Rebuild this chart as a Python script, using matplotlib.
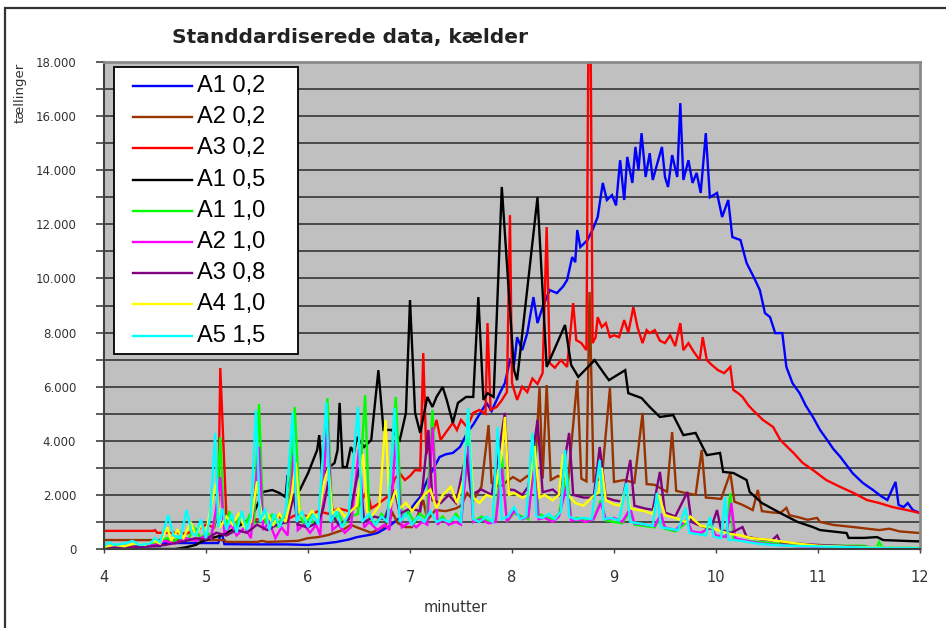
import matplotlib
matplotlib.use("Agg")
import matplotlib.pyplot as plt
from matplotlib.patches import Rectangle
from matplotlib.lines import Line2D
from matplotlib.ticker import MultipleLocator, FuncFormatter

plt.rcParams.update({"font.family": "DejaVu Sans"})

# ---- data (minutter, tællinger) ----
t_a1_02 = [4.0, 4.55, 4.56, 5.12, 5.14, 5.16, 5.18, 5.5, 5.8, 6.0, 6.15, 6.28, 6.4, 6.48, 6.6, 6.68, 6.8, 6.87,
           6.95, 7.0, 7.05, 7.1, 7.17, 7.22, 7.29, 7.35, 7.42, 7.49, 7.56, 7.62, 7.69, 7.75, 7.8, 7.88, 7.93, 7.98,
           8.02, 8.05, 8.1, 8.15, 8.21, 8.25, 8.3, 8.37, 8.44, 8.5, 8.54, 8.59, 8.62, 8.64, 8.67, 8.74, 8.79, 8.84,
           8.89, 8.93, 8.98, 9.02, 9.06, 9.1, 9.13, 9.18, 9.21, 9.24, 9.27, 9.31, 9.35, 9.38, 9.42, 9.47, 9.5, 9.53,
           9.57, 9.62, 9.65, 9.68, 9.73, 9.77, 9.81, 9.85, 9.9, 9.94, 10.01, 10.06, 10.12, 10.16, 10.24, 10.3, 10.37,
           10.43, 10.48, 10.53, 10.58, 10.65, 10.69, 10.75, 10.82, 10.88, 10.95, 11.02, 11.09, 11.15, 11.22, 11.28,
           11.34, 11.44, 11.54, 11.62, 11.68, 11.76, 11.79, 11.84, 11.88, 11.93, 12.0]
v_a1_02 = [110, 110, 220, 220, 520, 520, 180, 170, 170, 150, 200, 260, 350, 440, 520, 590, 850, 1070,
           1250, 1440, 1700, 1920, 2550, 2900, 3400, 3500, 3550, 3770, 4290, 4600, 5030, 5400, 5100, 5760, 6130, 6980,
           6800, 7830, 7350, 7980, 9310, 8350, 8940, 9570, 9460, 9700, 9940, 10790, 10600, 11790, 11160, 11420, 11800, 12270,
           13530, 12900, 13080, 12700, 14370, 12900, 14490, 13530, 14860, 14000, 15370, 13750, 14630, 13640, 14190, 14860, 13750, 13380,
           14560, 13750, 16480, 13640, 14370, 13530, 13900, 13160, 15370, 13000, 13160, 12270, 12900, 11530, 11420, 10570, 10050,
           9570, 8720, 8570, 7980, 7980, 6730, 6130, 5760, 5300, 4880, 4400, 4030, 3700, 3400, 3100,
           2800, 2440, 2180, 1950, 1810, 2480, 1630, 1550, 1700, 1440, 1330]

t_a2_02 = [4.0, 5.18, 5.2, 5.5, 5.55, 5.6, 5.9, 6.0, 6.1, 6.2, 6.34, 6.42, 6.48, 6.55, 6.62, 6.74, 6.8, 6.83, 6.88,
           6.95, 7.02, 7.07, 7.13, 7.17, 7.25, 7.35, 7.45, 7.5, 7.56, 7.62, 7.7, 7.77, 7.8, 7.88, 7.95, 8.01, 8.08,
           8.15, 8.22, 8.27, 8.3, 8.34, 8.38, 8.45, 8.55, 8.64, 8.68, 8.73, 8.76, 8.8, 8.88, 8.96, 9.0, 9.1, 9.2,
           9.28, 9.32, 9.4, 9.52, 9.57, 9.61, 9.7, 9.8, 9.86, 9.9, 9.97, 10.05, 10.14, 10.18, 10.26, 10.36, 10.41,
           10.45, 10.55, 10.63, 10.69, 10.72, 10.8, 10.9, 10.99, 11.02, 11.15, 11.35, 11.6, 11.7, 11.8, 12.0]
v_a2_02 = [330, 330, 260, 260, 300, 260, 300, 400, 440, 520, 700, 890, 800, 700, 600, 810, 1070, 1330, 960,
           810, 810, 1180, 1810, 1070, 1440, 1400, 1500, 1600, 2070, 1800, 2300, 4580, 2440, 2290, 2500, 2660, 2500,
           2700, 2550, 5990, 2600, 6060, 2550, 2700, 2550, 6240, 2600, 2500, 9500, 2500, 2600, 5950, 2480, 2550, 2450,
           5030, 2400, 2370, 2110, 4320, 2150, 2070, 2000, 3660, 1900, 1880, 1850, 2810, 1750, 1630, 1440, 2180,
           1400, 1350, 1330, 1520, 1250, 1180, 1080, 1150, 1000, 890, 810, 700, 750, 650, 590]

t_a3_02 = [4.0, 4.48, 4.5, 4.52, 4.75, 4.8, 4.9, 5.0, 5.08, 5.12, 5.14, 5.2, 5.3, 5.4, 5.5, 5.6, 5.7, 5.8, 5.9,
           6.0, 6.1, 6.2, 6.3, 6.4, 6.5, 6.58, 6.62, 6.7, 6.8, 6.85, 6.9, 6.95, 7.0, 7.05, 7.1, 7.13, 7.16, 7.2,
           7.26, 7.3, 7.35, 7.42, 7.46, 7.5, 7.56, 7.62, 7.68, 7.74, 7.76, 7.79, 7.85, 7.9, 7.95, 7.98, 8.0, 8.05,
           8.1, 8.15, 8.2, 8.25, 8.3, 8.34, 8.37, 8.42, 8.48, 8.54, 8.6, 8.63, 8.68, 8.73, 8.75, 8.77, 8.79, 8.82,
           8.84, 8.88, 8.92, 8.96, 9.0, 9.05, 9.1, 9.14, 9.19, 9.23, 9.28, 9.32, 9.35, 9.4, 9.45, 9.5, 9.55, 9.6,
           9.65, 9.68, 9.73, 9.78, 9.84, 9.87, 9.91, 9.96, 10.02, 10.08, 10.14, 10.17, 10.22, 10.26, 10.32, 10.36,
           10.46, 10.56, 10.63, 10.76, 10.85, 10.95, 11.08, 11.22, 11.35, 11.48, 11.6, 11.73, 11.87, 12.0]
v_a3_02 = [670, 670, 700, 600, 600, 560, 700, 900, 800, 1500, 6690, 1200, 1000, 900, 1100, 1000, 1200, 1100, 1300,
           1200, 1400, 1300, 1500, 1400, 1600, 2180, 1500, 1700, 2000, 2600, 2800, 2550, 2700, 2920, 2900, 7240, 3500, 4000,
           4770, 4030, 4300, 4660, 4400, 4770, 4500, 5030, 5140, 5000, 8350, 5140, 5250, 5500, 5800, 12340, 6130, 5510,
           6000, 5800, 6300, 6100, 6500, 11900, 6870, 6700, 6980, 6730, 9090, 7720, 7610, 7350, 19500, 19500, 7610, 7830,
           8570, 8200, 8350, 7830, 7900, 7830, 8460, 8000, 8940, 8200, 7610, 8090, 7980, 8090, 7700, 7610, 7900, 7500,
           8350, 7350, 7610, 7300, 6980, 7830, 6980, 6800, 6610, 6500, 6730, 5880, 5750, 5620, 5300, 5140,
           4770, 4510, 4030, 3550, 3180, 2920, 2550, 2290, 2070, 1810, 1700, 1550, 1440, 1330]

t_a1_05 = [4.0, 4.7, 4.8, 4.9, 4.95, 5.05, 5.15, 5.2, 5.3, 5.37, 5.45, 5.56, 5.65, 5.72, 5.78, 5.8, 5.84, 5.92,
           6.0, 6.09, 6.11, 6.14, 6.2, 6.26, 6.29, 6.31, 6.34, 6.38, 6.42, 6.45, 6.48, 6.55, 6.62, 6.69, 6.74, 6.82,
           6.9, 6.96, 7.0, 7.05, 7.1, 7.17, 7.22, 7.26, 7.32, 7.36, 7.42, 7.47, 7.55, 7.62, 7.67, 7.72, 7.76, 7.82,
           7.9, 8.02, 8.05, 8.25, 8.34, 8.52, 8.58, 8.65, 8.81, 8.9, 8.95, 9.11, 9.14, 9.27, 9.35, 9.45, 9.58, 9.68,
           9.8, 9.91, 10.04, 10.07, 10.17, 10.3, 10.33, 10.45, 10.63, 10.8, 10.95, 11.02, 11.28, 11.3, 11.45, 11.58,
           11.64, 11.85, 12.0]
v_a1_05 = [0, 0, 60, 150, 260, 400, 500, 590, 800, 960, 1180, 2110, 2180, 2070, 1920, 2730, 1920, 2180,
           2800, 3660, 4210, 2660, 3000, 3180, 3660, 5400, 3030, 3030, 3770, 3550, 4140, 3770, 4030, 6610, 4400, 4400,
           4030, 5030, 9200, 5030, 4290, 5620, 5250, 5620, 5990, 5510, 4660, 5400, 5620, 5620, 9310, 5510, 5760, 5620,
           13380, 6610, 6240, 13000, 6730, 8280, 6800, 6360, 6980, 6500, 6240, 6610, 5760, 5580, 5250, 4880, 4950, 4210,
           4290, 3470, 3550, 2850, 2810, 2550, 2110, 1700, 1330, 1000, 810, 700, 590, 410, 410, 440,
           330, 300, 280]

t_a1_10 = [4.0, 4.2, 4.3, 4.45, 4.55, 4.62, 4.68, 4.75, 4.82, 4.88, 4.95, 5.0, 5.05, 5.1, 5.14, 5.18, 5.23, 5.28,
           5.33, 5.38, 5.43, 5.47, 5.52, 5.56, 5.6, 5.65, 5.7, 5.75, 5.8, 5.87, 5.92, 5.96, 6.02, 6.07, 6.12, 6.19,
           6.24, 6.3, 6.35, 6.42, 6.49, 6.56, 6.6, 6.66, 6.72, 6.78, 6.86, 6.92, 6.98, 7.04, 7.1, 7.16, 7.22, 7.27,
           7.32, 7.38, 7.45, 7.5, 7.57, 7.62, 7.7, 7.77, 7.84, 7.9, 7.95, 8.02, 8.1, 8.16, 8.22, 8.26, 8.32, 8.4,
           8.46, 8.54, 8.58, 8.65, 8.72, 8.8, 8.87, 8.92, 9.0, 9.08, 9.16, 9.2, 9.3, 9.4, 9.46, 9.5, 9.6, 9.72,
           9.76, 9.85, 9.95, 10.0, 10.1, 10.14, 10.17, 10.3, 10.45, 10.6, 10.8, 11.0, 11.2, 11.45, 11.5, 11.58, 11.6,
           11.63, 11.8, 12.0]
v_a1_10 = [100, 120, 80, 150, 300, 400, 250, 500, 300, 800, 400, 600, 500, 1200, 4140, 700, 1400, 700,
           1200, 800, 1300, 900, 5360, 1200, 900, 1300, 800, 1200, 900, 5250, 1300, 900, 1200, 800, 1300, 5580,
           1000, 1300, 900, 1200, 1300, 5690, 1200, 900, 1300, 1000, 5620, 1100, 1400, 1000, 1300, 1100, 5140, 1000,
           1200, 900, 1300, 1000, 4600, 1000, 1200, 1000, 1100, 3500, 1000, 1330, 1200, 1100, 4200, 1300, 1200, 1100,
           1300, 2800, 1100, 1150, 1050, 1100, 1800, 1050, 1000, 950, 1400, 900, 850, 800, 1200, 750, 650, 1000,
           600, 550, 900, 450, 450, 2070, 350, 300, 250, 200, 150, 130, 120, 120, 60, 80, 260,
           60, 40, 30]

t_a2_10 = [4.0, 4.3, 4.5, 4.6, 4.7, 4.8, 4.9, 5.0, 5.05, 5.1, 5.14, 5.18, 5.25, 5.3, 5.38, 5.44, 5.52, 5.56, 5.62,
           5.68, 5.74, 5.8, 5.86, 5.9, 5.96, 6.02, 6.08, 6.12, 6.19, 6.24, 6.3, 6.36, 6.42, 6.5, 6.55, 6.6, 6.68,
           6.75, 6.8, 6.86, 6.92, 7.0, 7.06, 7.12, 7.17, 7.22, 7.27, 7.32, 7.38, 7.45, 7.5, 7.57, 7.62, 7.7, 7.77,
           7.84, 7.9, 7.95, 8.02, 8.1, 8.16, 8.22, 8.26, 8.32, 8.4, 8.46, 8.54, 8.58, 8.65, 8.72, 8.8, 8.87, 8.92,
           9.0, 9.08, 9.16, 9.2, 9.3, 9.4, 9.46, 9.5, 9.6, 9.72, 9.76, 9.85, 9.95, 10.0, 10.1, 10.15, 10.19, 10.3,
           10.45, 10.6, 10.8, 11.0, 11.5, 12.0]
v_a2_10 = [50, 80, 150, 300, 200, 400, 300, 500, 400, 1500, 2660, 600, 900, 500, 800, 400, 3770, 700, 1000,
           400, 800, 500, 3500, 700, 900, 600, 900, 500, 4770, 700, 900, 600, 800, 3700, 800, 1000, 700,
           900, 700, 4000, 800, 1000, 800, 1000, 900, 4510, 900, 1100, 900, 1000, 900, 3800, 1000, 1100, 950,
           1000, 3000, 1000, 1400, 1100, 1200, 3200, 1100, 1150, 1000, 1200, 2400, 1050, 1100, 1000, 1100, 1700, 1100,
           1150, 1000, 1500, 950, 900, 850, 1300, 800, 700, 1100, 650, 600, 800, 500, 450, 1700, 400, 300,
           200, 150, 100, 80, 50, 30]

t_a3_08 = [4.0, 4.4, 4.6, 4.8, 4.9, 5.0, 5.1, 5.2, 5.3, 5.4, 5.5, 5.6, 5.7, 5.8, 5.86, 5.9, 6.0, 6.1, 6.15, 6.2,
           6.25, 6.3, 6.4, 6.5, 6.55, 6.65, 6.75, 6.85, 6.9, 7.0, 7.1, 7.18, 7.22, 7.3, 7.38, 7.45, 7.55, 7.6, 7.7,
           7.8, 7.88, 7.93, 7.97, 8.02, 8.1, 8.16, 8.25, 8.3, 8.4, 8.46, 8.56, 8.6, 8.7, 8.8, 8.86, 8.92, 9.0, 9.08,
           9.16, 9.2, 9.3, 9.38, 9.45, 9.5, 9.6, 9.72, 9.76, 9.85, 9.95, 10.01, 10.05, 10.15, 10.26, 10.3, 10.45,
           10.55, 10.6, 10.63, 10.8, 11.0, 11.3, 11.6, 12.0]
v_a3_08 = [50, 80, 150, 300, 400, 350, 600, 500, 700, 600, 900, 700, 900, 1000, 2000, 900, 800, 1000, 1500, 2500,
           1200, 900, 1100, 3000, 1000, 1200, 1100, 2200, 1300, 1500, 1400, 4400, 1800, 1700, 2000, 1700, 3500, 2000, 2200,
           2000, 3800, 5030, 2200, 2180, 2000, 2300, 4770, 2100, 2200, 2000, 4290, 2000, 1900, 1900, 3770, 1900, 1800, 1750,
           3290, 1600, 1500, 1450, 2850, 1350, 1200, 2110, 1000, 850, 750, 1440, 700, 600, 810, 450, 350,
           320, 500, 250, 200, 150, 100, 60, 40]

t_a4_10 = [4.0, 4.1, 4.2, 4.3, 4.4, 4.5, 4.55, 4.62, 4.66, 4.72, 4.78, 4.85, 4.9, 4.95, 5.0, 5.06, 5.1, 5.14, 5.2,
           5.26, 5.32, 5.38, 5.44, 5.5, 5.55, 5.6, 5.66, 5.72, 5.78, 5.84, 5.88, 5.92, 5.98, 6.04, 6.1, 6.16, 6.2,
           6.24, 6.3, 6.36, 6.42, 6.48, 6.54, 6.58, 6.62, 6.7, 6.76, 6.8, 6.86, 6.9, 6.96, 7.02, 7.08, 7.14, 7.2,
           7.26, 7.32, 7.4, 7.46, 7.52, 7.57, 7.62, 7.68, 7.75, 7.82, 7.9, 7.93, 7.97, 8.02, 8.1, 8.16, 8.22, 8.27,
           8.32, 8.4, 8.46, 8.5, 8.55, 8.62, 8.7, 8.78, 8.85, 8.88, 8.92, 9.0, 9.06, 9.12, 9.16, 9.22, 9.3, 9.38,
           9.44, 9.5, 9.6, 9.7, 9.75, 9.85, 9.95, 10.05, 10.15, 10.25, 10.35, 10.5, 10.6, 10.8, 11.0, 11.3, 11.6, 12.0]
v_a4_10 = [80, 150, 100, 200, 150, 300, 200, 800, 300, 700, 400, 1000, 500, 900, 600, 1800, 2440, 800, 1200,
           900, 1300, 800, 1000, 2500, 1100, 1300, 900, 1300, 1000, 2000, 3200, 1300, 1100, 1400, 1100, 2500, 3000,
           1300, 1500, 1200, 1400, 1600, 3500, 1400, 1200, 1600, 4770, 1500, 2200, 1500, 1700, 1400, 1700, 2000, 2200,
           1500, 2000, 2300, 1700, 2500, 5030, 1900, 1700, 2000, 1900, 3500, 4880, 2000, 2070, 1900, 2000, 3800, 1900,
           2000, 1800, 2000, 3500, 2000, 1700, 1600, 1900, 2100, 3000, 1800, 1650, 1600, 2300, 1500, 1450, 1400, 1300,
           2000, 1250, 1150, 1000, 1200, 850, 800, 650, 550, 500, 400, 350, 300, 200, 120, 80, 60, 50]

t_a5_15 = [4.0, 4.05, 4.1, 4.2, 4.28, 4.35, 4.45, 4.5, 4.55, 4.63, 4.68, 4.75, 4.81, 4.86, 4.9, 4.95, 5.0, 5.04,
           5.09, 5.12, 5.16, 5.2, 5.25, 5.3, 5.35, 5.4, 5.44, 5.49, 5.53, 5.58, 5.62, 5.67, 5.72, 5.78, 5.85, 5.89,
           5.94, 6.0, 6.05, 6.1, 6.18, 6.22, 6.28, 6.33, 6.4, 6.49, 6.53, 6.6, 6.66, 6.72, 6.78, 6.85, 6.9, 6.96,
           7.02, 7.08, 7.14, 7.2, 7.26, 7.32, 7.38, 7.44, 7.5, 7.57, 7.62, 7.68, 7.75, 7.81, 7.86, 7.9, 7.96, 8.02,
           8.08, 8.14, 8.2, 8.24, 8.3, 8.36, 8.42, 8.48, 8.52, 8.56, 8.62, 8.7, 8.78, 8.86, 8.9, 8.97, 9.05, 9.12,
           9.16, 9.24, 9.32, 9.38, 9.42, 9.46, 9.55, 9.63, 9.7, 9.74, 9.82, 9.9, 9.94, 9.98, 10.05, 10.09, 10.12,
           10.25, 10.4, 10.55, 10.7, 10.9, 11.2, 11.5, 12.0]
v_a5_15 = [100, 250, 150, 200, 300, 150, 200, 400, 250, 1250, 500, 400, 1440, 600, 500, 1100, 400, 1200,
           4290, 800, 1500, 700, 1300, 600, 1400, 700, 1200, 5140, 1000, 1500, 700, 1300, 800, 1400, 5060, 1000,
           1400, 800, 1300, 900, 5430, 1000, 1400, 800, 1300, 5250, 1000, 1300, 900, 1200, 1000, 5210, 1000, 1300,
           900, 1200, 1000, 1400, 1000, 1100, 1000, 1200, 1000, 5210, 1100, 1000, 1200, 1000, 4510, 1100, 1200, 1550,
           1100, 1200, 4290, 1200, 1150, 1300, 1100, 1400, 3660, 1200, 1100, 1150, 1100, 3290, 1100, 1150, 1050, 2440,
           1000, 950, 900, 850, 2070, 800, 750, 700, 1520, 600, 550, 500, 1180, 450, 400, 1920, 350,
           300, 200, 150, 120, 100, 80, 50, 40]

SERIES = [("A1 0,2", t_a1_02, v_a1_02, "#0000ff"),
          ("A2 0,2", t_a2_02, v_a2_02, "#993300"),
          ("A3 0,2", t_a3_02, v_a3_02, "#ff0000"),
          ("A1 0,5", t_a1_05, v_a1_05, "#000000"),
          ("A1 1,0", t_a1_10, v_a1_10, "#00ff00"),
          ("A2 1,0", t_a2_10, v_a2_10, "#ff00ff"),
          ("A3 0,8", t_a3_08, v_a3_08, "#800080"),
          ("A4 1,0", t_a4_10, v_a4_10, "#ffff00"),
          ("A5 1,5", t_a5_15, v_a5_15, "#00ffff")]

W, H = 946, 628
fig = plt.figure(figsize=(W / 100, H / 100), dpi=100)
fig.patch.set_facecolor("white")
# outer chart border (only left and top edges fall inside the picture)
fig.patches.append(Rectangle((5 / W, -0.2), 1.2, 1.2 - 8 / H, transform=fig.transFigure,
                             facecolor="none", edgecolor="#333333", lw=1.6))

ax = fig.add_axes([104 / W, 1 - 549 / H, 816 / W, 487 / H])
ax.set_facecolor("#c0c0c0")
for lab, t, v, c in SERIES:
    ax.plot(t, v, color=c, lw=1.7, solid_joinstyle="miter")

ax.set_xlim(4, 12)
ax.set_ylim(0, 18000)
ax.yaxis.set_major_locator(MultipleLocator(2000))
ax.yaxis.set_minor_locator(MultipleLocator(1000))
ax.xaxis.set_major_locator(MultipleLocator(1))
ax.yaxis.set_major_formatter(FuncFormatter(lambda v, p: f"{int(v):,}".replace(",", ".")))
ax.grid(True, which="both", axis="y", color="#404040", lw=1.3)
ax.set_axisbelow(True)
ax.tick_params(axis="y", which="both", length=6, width=1.2, color="#404040", pad=14,
               labelsize=8.5, labelcolor="#333333")
ax.tick_params(axis="x", length=3, width=1.0, color="#404040", pad=12, labelsize=10.5, labelcolor="#333333")
for s in ["top", "right"]:
    ax.spines[s].set_color("#8a8a8a"); ax.spines[s].set_linewidth(2)
ax.spines["left"].set_color("#404040"); ax.spines["left"].set_linewidth(1.5)
ax.spines["bottom"].set_color("#404040"); ax.spines["bottom"].set_linewidth(1.5)

fig.text(350 / W, 1 - 38 / H, "Standdardiserede data, kælder", ha="center", va="center",
         fontsize=14.5, fontweight="bold", color="#222222")
fig.text(20 / W, 1 - 93 / H, "tællinger", rotation=90, ha="center", va="center", fontsize=9.5, color="#333333")
fig.text(455 / W, 1 - 607 / H, "minutter", ha="center", va="center", fontsize=10.5, color="#333333")

# legend box drawn in pixel positions
def fx(px): return px / W
def fy(py): return 1 - py / H
fig.patches.append(Rectangle((fx(114), fy(354)), fx(298) - fx(114), fy(67) - fy(354), transform=fig.transFigure,
                             facecolor="white", edgecolor="black", lw=1.3, zorder=5))
for i, (lab, t, v, c) in enumerate(SERIES):
    yc = 86 + i * 31.2
    fig.lines.append(Line2D([fx(133), fx(192)], [fy(yc), fy(yc)], transform=fig.transFigure, color=c, lw=1.7, zorder=6))
    fig.text(fx(197), fy(yc), lab, ha="left", va="center", fontsize=17, family="Liberation Sans", zorder=6)

fig.savefig("out.png", dpi=100, facecolor="white")
